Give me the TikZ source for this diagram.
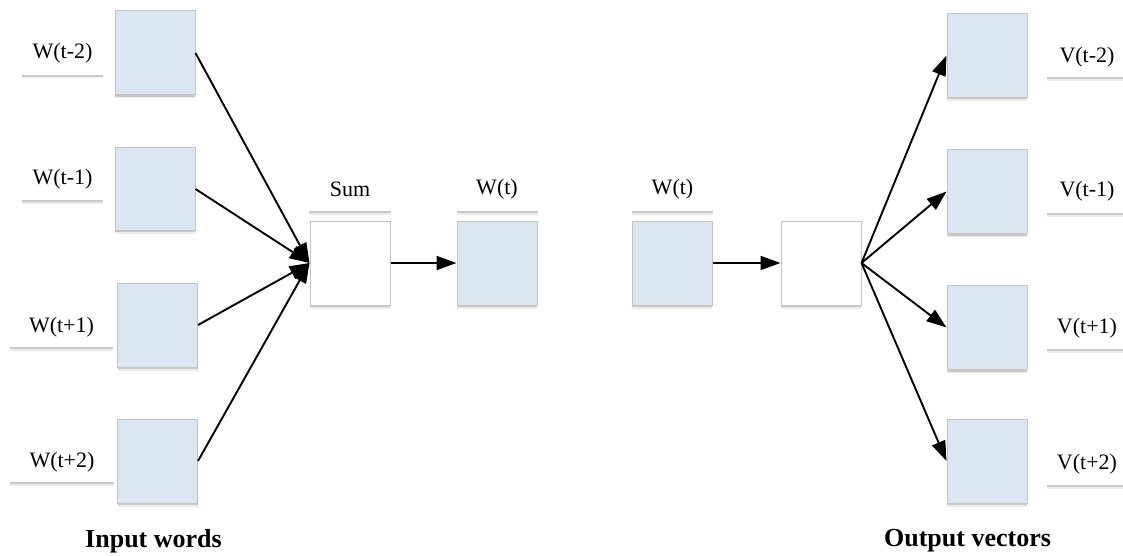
\documentclass[tikz,border=0pt]{standalone}
\usepackage{fontspec}
\setmainfont{Liberation Serif}
\usetikzlibrary{shadows,arrows.meta}
\definecolor{boxblue}{HTML}{DCE6F2}
\definecolor{boxedge}{HTML}{C4C4C4}
\tikzset{
  shad/.style={
    drop shadow={shadow xshift=0pt, shadow yshift=-3.5pt, opacity=0.08, fill=black},
    drop shadow={shadow xshift=0pt, shadow yshift=-2pt, opacity=0.14, fill=black}},
  vecbox/.style={shad, draw=boxedge, line width=1pt, fill=boxblue, minimum width=80pt, minimum height=84pt, inner sep=0pt},
  sumbox/.style={vecbox, fill=white},
  lab/.style={shad, fill=white, inner sep=0pt, minimum width=81pt, minimum height=43pt, font=\fontsize{22}{24}\selectfont},
  biglab/.style={shad, fill=white, inner sep=0pt, minimum height=36pt, font=\fontsize{26}{30}\selectfont\bfseries},
  arr/.style={line width=1.9pt, -{Triangle[length=20pt,width=14pt]}}
}
\begin{document}
\begin{tikzpicture}[x=1pt,y=-1pt]
\useasboundingbox[fill=white] (0,0) rectangle (1123,556);
% left labels
\node[lab] (lw1) at (62.5,53.5) {W(t-2)};
\node[lab, minimum height=42pt] (lw2) at (62.5,179) {W(t-1)};
\node[lab, minimum width=103pt, minimum height=40pt] (lw3) at (61.5,327) {W(t+1)};
\node[lab, minimum width=104pt, minimum height=40pt] (lw4) at (62,462) {W(t+2)};
% left boxes
\node[vecbox] (bw1) at (155,53) {};
\node[vecbox, minimum height=82pt] (bw2) at (155,189) {};
\node[vecbox] (bw3) at (157.5,325) {};
\node[vecbox] (bw4) at (157.5,461) {};
% middle
\node[lab, minimum width=82pt] (lsum) at (350,189.5) {Sum};
\node[sumbox] (sum) at (350,263) {};
\node[lab] (lwt) at (497,189.5) {W(t)};
\node[vecbox] (wt) at (497,263) {};
\node[lab] (lwt2) at (672.5,189.5) {W(t)};
\node[vecbox] (wt2) at (672,263) {};
\node[sumbox] (hid) at (821,263) {};
% right boxes
\node[vecbox] (bv1) at (987,55.5) {};
\node[vecbox] (bv2) at (987,191.5) {};
\node[vecbox] (bv3) at (987,327.5) {};
\node[vecbox] (bv4) at (987,461) {};
% right labels
\node[lab, minimum height=41pt] (lv1) at (1087,57) {V(t-2)};
\node[lab, minimum height=44pt] (lv2) at (1087,191) {V(t-1)};
\node[lab, minimum height=41pt] (lv3) at (1087,328.5) {V(t+1)};
\node[lab, minimum height=42pt] (lv4) at (1087,464) {V(t+2)};
% bottom labels
\node[biglab, minimum width=167pt] (inw) at (153.5,541) {Input words};
\node[biglab, minimum width=191pt] (outv) at (967.5,541) {Output vectors};
% arrows
\draw[arr] (bw1.east) -- (sum.west);
\draw[arr] (bw2.east) -- (sum.west);
\draw[arr] (bw3.east) -- (sum.west);
\draw[arr] (bw4.east) -- (sum.west);
\draw[arr] (sum.east) -- (wt.west);
\draw[arr] (wt2.east) -- (hid.west);
\draw[arr] (hid.east) -- (bv1.west);
\draw[arr] (hid.east) -- (bv2.west);
\draw[arr] (hid.east) -- (bv3.west);
\draw[arr] (hid.east) -- (bv4.west);
\end{tikzpicture}
\end{document}
